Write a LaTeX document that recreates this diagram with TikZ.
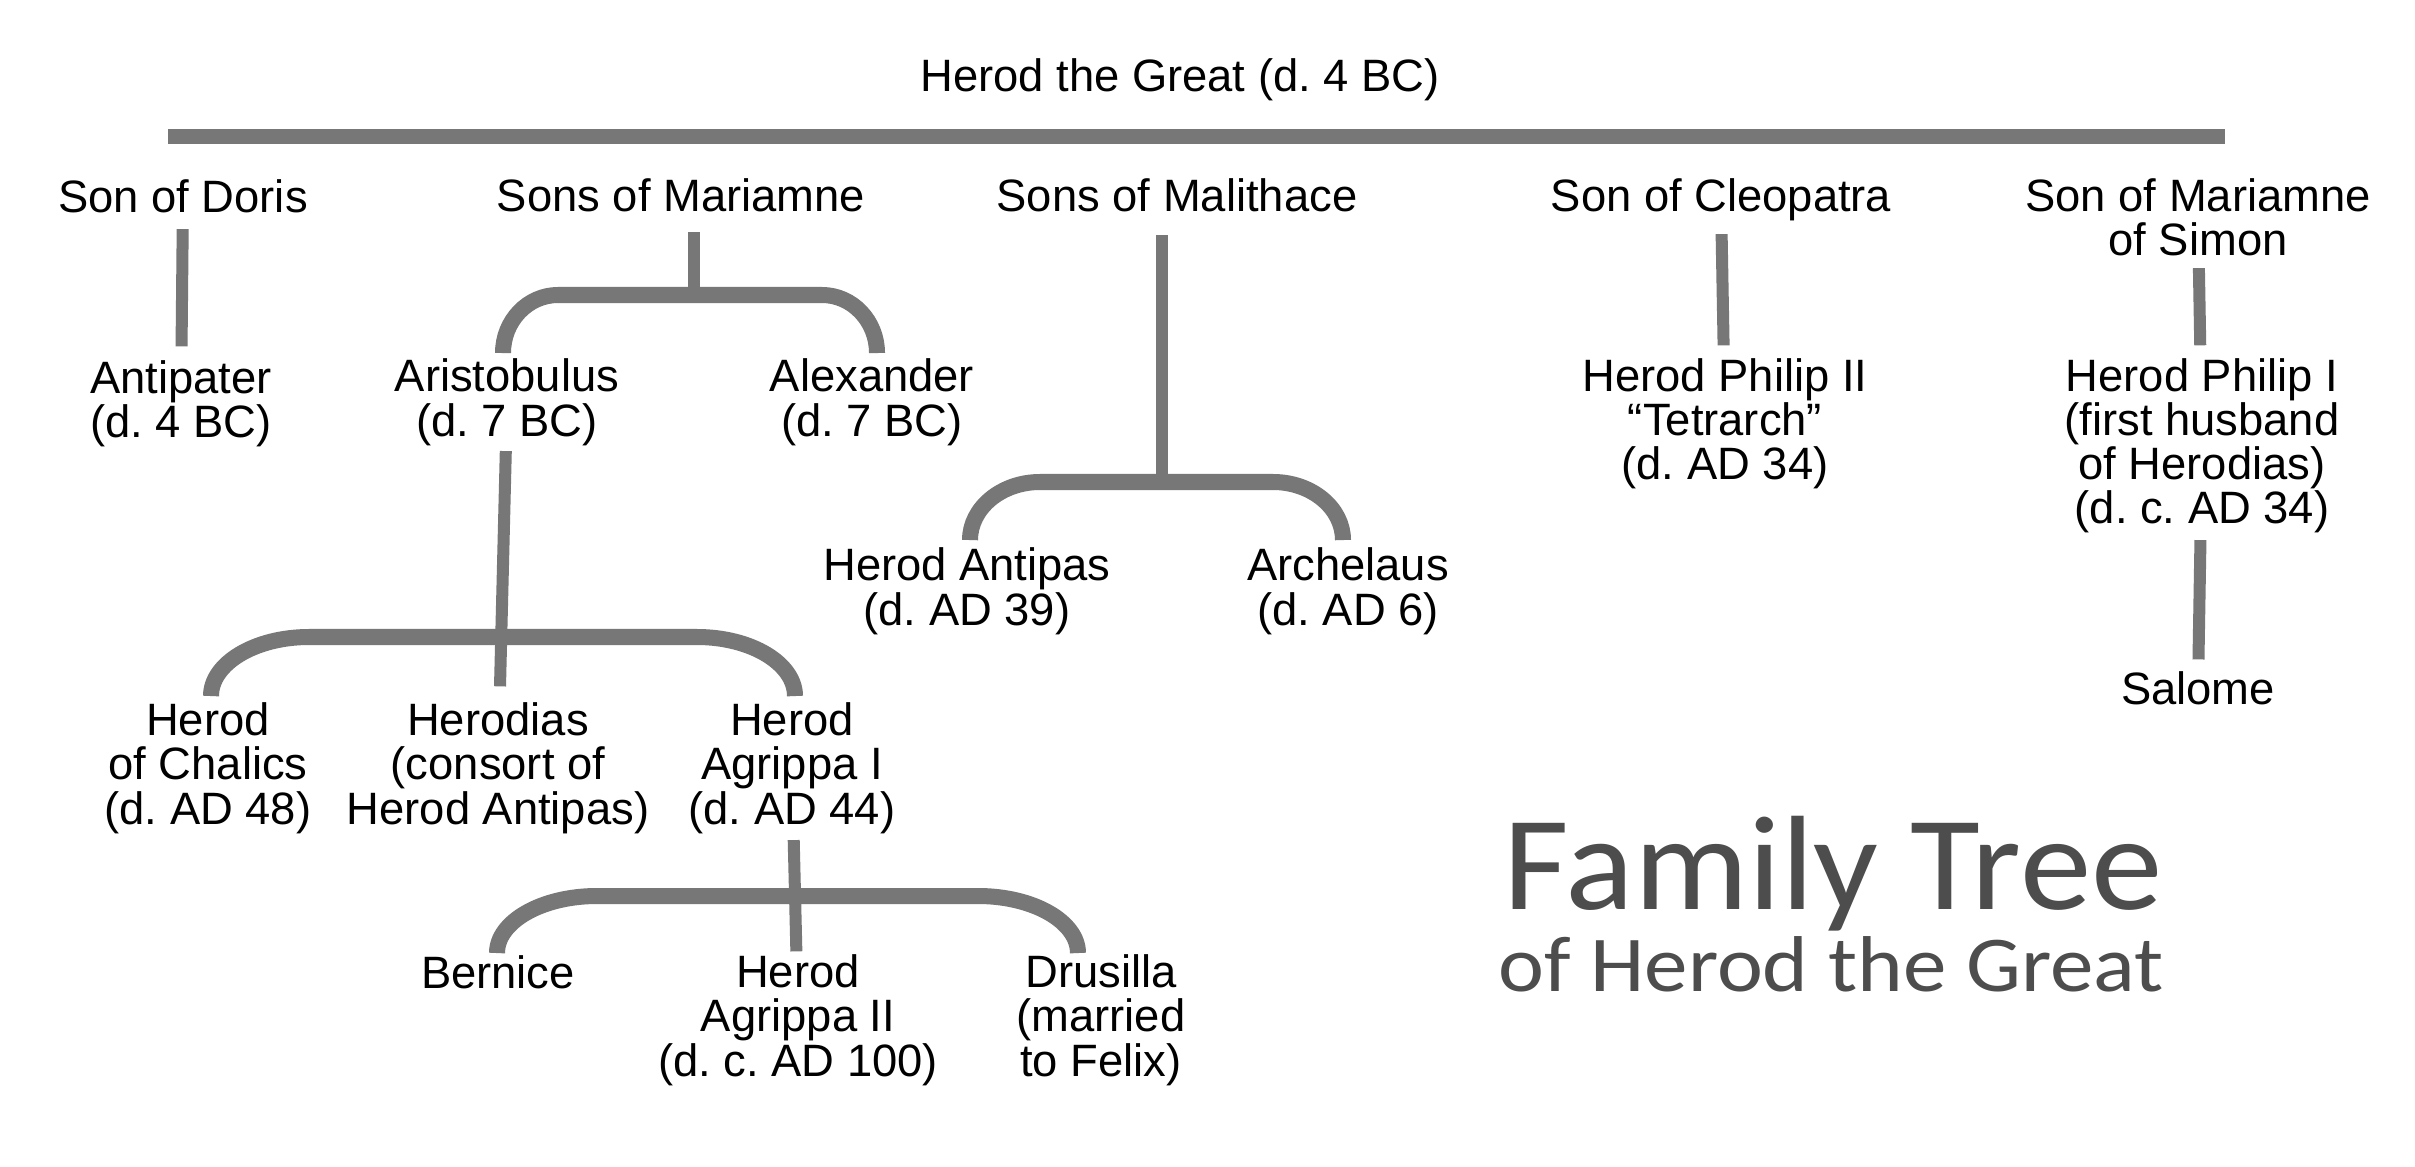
\documentclass[tikz,border=0pt]{standalone}
\usepackage{fontspec}
\setmainfont{Liberation Sans}
\newfontfamily\treetitlefont[FakeStretch=1.065]{Carlito}
\newfontfamily\treesubfont[FakeStretch=1.10]{Carlito}
\usetikzlibrary{calc}
\definecolor{linegray}{HTML}{777777}
\definecolor{titlegray}{HTML}{4D4D4D}
\tikzset{
  person/.style={align=center, inner sep=0pt, anchor=base, font=\fontsize{12.9pt}{12.52pt}\selectfont},
  stem/.style={draw=linegray, line width=0.12cm},
  bracket/.style={draw=linegray, line width=0.16cm},
  bar/.style={draw=linegray, line width=0.15cm}
}
\frenchspacing
\begin{document}
\begin{tikzpicture}[x=0.01cm,y=0.01cm]
  \fill[white] (0,0) rectangle (2415,-1167);
  \useasboundingbox (0,0) rectangle (2415,-1167);

  % Herod and his wives (nodes sit on the baseline of their last line)
  \node[person] (herod) at (1180,-92) {Herod the Great (d. 4 BC)};
  \coordinate (barL) at (168,-137);
  \coordinate (barR) at (2225,-137);
  \draw[bar] (barL) -- (barR);

  \node[person] (doris)      at (183,-213)  {Son of Doris};
  \node[person] (mariamne)   at (681,-212)  {Sons of Mariamne};
  \node[person] (malithace)  at (1177,-212) {Sons of Malithace};
  \node[person] (cleopatra)  at (1721,-212) {Son of Cleopatra};
  \node[person] (mariamneII) at (2198,-256) {Son of Mariamne\\of Simon};

  % sons
  \node[person] (antipater)   at (181,-438)  {Antipater\\(d. 4 BC)};
  \node[person] (aristobulus) at (507,-436)  {Aristobulus\\(d. 7 BC)};
  \node[person] (alexander)   at (872,-436)  {Alexander\\(d. 7 BC)};
  \node[person] (antipas)     at (967,-625)  {Herod Antipas\\(d. AD 39)};
  \node[person] (archelaus)   at (1348,-625) {Archelaus\\(d. AD 6)};
  \node[person] (philipII)    at (1725,-480) {Herod Philip II\\“Tetrarch”\\(d. AD 34)};
  \node[person] (philipI)     at (2202,-524) {Herod Philip I\\(first husband\\of Herodias)\\(d. c. AD 34)};
  \node[person] (salome)      at (2198,-704) {Salome};

  % grandchildren
  \node[person] (chalcis)   at (208,-824) {Herod\\of Chalics\\(d. AD 48)};
  \node[person] (herodias)  at (498,-824) {Herodias\\(consort of\\Herod Antipas)};
  \node[person] (agrippaI)  at (792,-824) {Herod\\Agrippa I\\(d. AD 44)};
  \node[person] (bernice)   at (498,-988) {Bernice};
  \node[person] (agrippaII) at (798,-1076) {Herod\\Agrippa II\\(d. c. AD 100)};
  \node[person] (drusilla)  at (1101,-1076) {Drusilla\\(married\\to Felix)};

  % title
  \node[anchor=base, inner sep=0pt, text=titlegray, font=\treetitlefont\fontsize{38.2pt}{40pt}\selectfont] (ftree) at (1833,-909) {Family Tree};
  \node[anchor=base, inner sep=0pt, text=titlegray, font=\treesubfont\fontsize{22.5pt}{24pt}\selectfont] (fsub) at (1831,-991) {of Herod the Great};

  % straight lines
  \draw[stem, shorten <=0.15cm, shorten >=0.14cm] (doris) -- (antipater);
  \draw[stem, shorten <=0.12cm, shorten >=0.13cm] (cleopatra) -- (philipII);
  \draw[stem, shorten <=0.11cm, shorten >=0.13cm] (mariamneII) -- (philipI);
  \draw[stem, shorten <=0.06cm, shorten >=0.11cm] (philipI) -- (salome);
  \draw[stem, shorten <=0.05cm, shorten >=0.16cm] (aristobulus) -- (herodias);
  \draw[stem, shorten <=0.06cm, shorten >=0.03cm] (agrippaI) -- (agrippaII);

  % brackets
  \coordinate (jmar) at (694,-295);
  \draw[stem, shorten <=0.19cm] (mariamne.south -| jmar) -- (jmar);
  \draw[bracket] ([xshift=-0.04cm,yshift=-0.58cm]aristobulus.north |- jmar)
    arc[start angle=180, end angle=90, x radius=0.55cm, y radius=0.58cm]
    -- ([xshift=-0.5cm]alexander.north |- jmar)
    arc[start angle=90, end angle=0, x radius=0.55cm, y radius=0.58cm];

  \coordinate (jmal) at (1162,-482);
  \draw[stem, shorten <=0.22cm] (malithace.south -| jmal) -- (jmal);
  \draw[bracket] ([xshift=0.03cm,yshift=-0.58cm]antipas.north |- jmal)
    arc[start angle=180, end angle=90, x radius=0.7cm, y radius=0.58cm]
    -- ([xshift=-0.75cm]archelaus.north |- jmal)
    arc[start angle=90, end angle=0, x radius=0.7cm, y radius=0.58cm];

  \coordinate (jchal) at (500,-637);
  \draw[bracket] ([xshift=0.03cm,yshift=-0.59cm]chalcis.north |- jchal)
    arc[start angle=180, end angle=90, x radius=0.98cm, y radius=0.59cm]
    -- ([xshift=-0.95cm]agrippaI.north |- jchal)
    arc[start angle=90, end angle=0, x radius=0.98cm, y radius=0.59cm];

  \coordinate (jagr) at (795,-896);
  \draw[bracket] ([xshift=-0.01cm,yshift=-0.57cm]bernice.north |- jagr)
    arc[start angle=180, end angle=90, x radius=1.0cm, y radius=0.57cm]
    -- ([xshift=-1.23cm]drusilla.north |- jagr)
    arc[start angle=90, end angle=0, x radius=1.0cm, y radius=0.57cm];
\end{tikzpicture}
\end{document}
